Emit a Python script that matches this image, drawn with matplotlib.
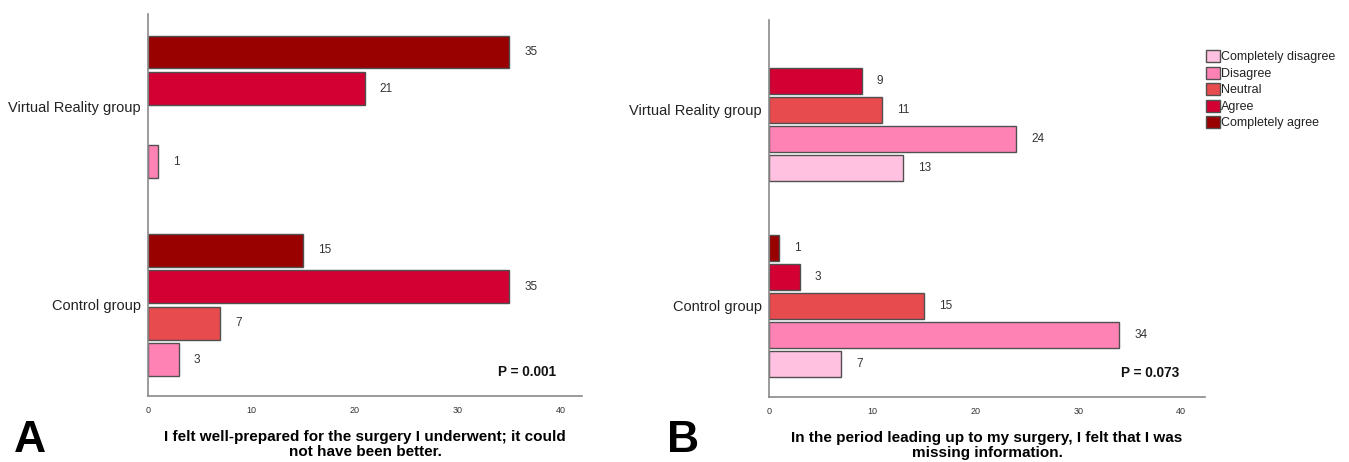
import numpy as np
import matplotlib
matplotlib.use("Agg")
import matplotlib.pyplot as plt
from matplotlib.patches import Patch

plt.rcParams['font.family'] = ['Liberation Sans', 'DejaVu Sans']

groups = ["Virtual Reality group", "Control group"]

# answer categories, darkest first (top of each cluster)
cats_a = ["Completely agree", "Agree", "Neutral", "Disagree"]
vr_a = [35, 21, 0, 1]
ctrl_a = [15, 35, 7, 3]

cats_b = ["Completely agree", "Agree", "Neutral", "Disagree", "Completely disagree"]
vr_b = [0, 9, 11, 24, 13]
ctrl_b = [1, 3, 15, 34, 7]

legend_order = ["Completely disagree", "Disagree", "Neutral", "Agree", "Completely agree"]

colors = {
    "Completely disagree": "#FFC1DF",
    "Disagree": "#FF82B5",
    "Neutral": "#E84B4D",
    "Agree": "#D20033",
    "Completely agree": "#990000",
}

xlabel_a = "I felt well-prepared for the surgery I underwent; it could\nnot have been better."
xlabel_b = "In the period leading up to my surgery, I felt that I was\nmissing information."
pval_a = "P = 0.001"
pval_b = "P = 0.073"


def draw_panel(ax, cats, data, group_gap, pad_top, pad_bot, xmax, pval, xlabel):
    n = len(cats)
    centers = []
    for g, vals in enumerate(data):
        start = g * (n + group_gap)
        pos = start + np.arange(n)
        centers.append(pos.mean())
        for p, v, c in zip(pos, vals, cats):
            if v == 0:
                continue
            ax.barh(p, v, height=0.9, color=colors[c], edgecolor="#505050", linewidth=1.0)
            ax.text(v + 1.45, p, str(v), va="center", ha="left", fontsize=8.5, color="#333333")
    last = (len(data) - 1) * (n + group_gap) + n - 1
    ax.set_ylim(last + pad_bot, -pad_top)
    ax.set_xlim(0, xmax)
    ax.set_yticks(centers)
    ax.set_yticklabels(groups, fontsize=10.5, color="#222222")
    ax.set_xticks([0, 10, 20, 30, 40])
    ax.tick_params(axis="x", labelsize=6.5, colors="#333333", length=0, pad=7)
    ax.tick_params(axis="y", length=0, pad=5)
    for s in ["top", "right"]:
        ax.spines[s].set_visible(False)
    for s in ["left", "bottom"]:
        ax.spines[s].set_color("#8a8a8a")
        ax.spines[s].set_linewidth(1.2)
    ax.text(0.94, 0.063, pval, transform=ax.transAxes, ha="right", va="center",
            fontsize=9.8, fontweight="bold", color="#111111")
    ax.set_xlabel(xlabel, fontsize=11, fontweight="bold", labelpad=11, linespacing=1.05)


fig = plt.figure(figsize=(13.49, 4.62), dpi=100)

ax_a = fig.add_axes([148 / 1349, 1 - 396 / 462, 434 / 1349, 382 / 462])
draw_panel(ax_a, cats_a, [vr_a, ctrl_a], 1.42, 1.04, 0.99, 42.05, pval_a, xlabel_a)

ax_b = fig.add_axes([769 / 1349, 1 - 397 / 462, 436 / 1349, 377 / 462])
draw_panel(ax_b, cats_b, [vr_b, ctrl_b], 1.76, 1.1, 1.14, 42.3, pval_b, xlabel_b)

fig.text(14 / 1349, 1 - 452 / 462, "A", fontsize=32, fontweight="bold", ha="left", va="baseline")
fig.text(667 / 1349, 1 - 452 / 462, "B", fontsize=32, fontweight="bold", ha="left", va="baseline")

handles = [Patch(facecolor=colors[c], edgecolor="#505050", label=c) for c in legend_order]
leg = fig.legend(handles=handles, loc="upper left", bbox_to_anchor=(1206 / 1349, 1 - 50 / 462),
                 frameon=False, fontsize=9, handlelength=1.1, handleheight=1.1,
                 handletextpad=0.1, labelspacing=0.26, borderaxespad=0, borderpad=0)
for t in leg.get_texts():
    t.set_color("#222222")

fig.savefig("out.png", dpi=100)
